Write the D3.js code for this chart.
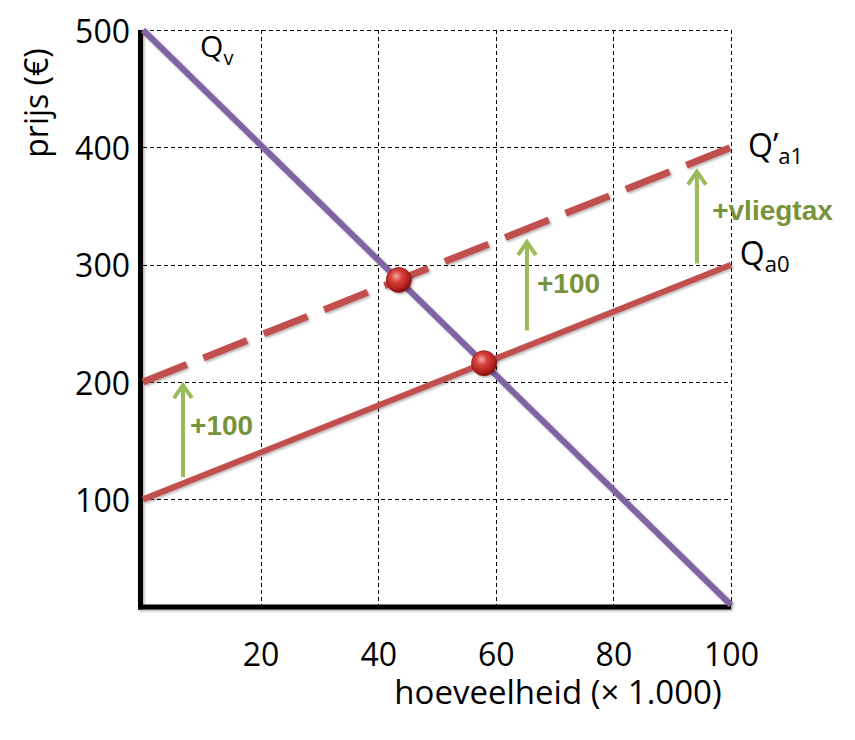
<!DOCTYPE html>
<html>
<head>
<meta charset="utf-8">
<script src="https://cdn.jsdelivr.net/npm/d3@7"></script>
<style>
  html, body { margin: 0; padding: 0; background: #fff; }
  svg { display: block; }
</style>
</head>
<body>
<div id="chart"></div>
<script>
// ---- data ----
const xTicks = [20, 40, 60, 80, 100];
const yTicks = [100, 200, 300, 400, 500];
const lineQ = [0, 100];
const demandP = [500, 10];      // Qv
const supply0P = [100, 300];    // Qa0
const supply1P = [200, 400];    // Q'a1 (with vliegtax)
const equilibriumQ = [43.5, 58];
const equilibriumP = [287, 216];
const arrowQ = [6.8, 65.3, 94.2];
const arrowFromP = [119, 244, 301];
const arrowToP = [199, 321, 381];
const arrowLabels = ["+100", "+100", "+vliegtax"];
const arrowLabelQ = [8.0, 67.0, 96.8];
const arrowLabelP = [155, 276, 338];
const xTitle = "hoeveelheid (× 1.000)";
const yTitle = "prijs (€)";

// ---- layout ----
const W = 855, H = 740;
const svg = d3.select("#chart").append("svg").attr("width", W).attr("height", H);
const x = d3.scaleLinear().domain([0, 100]).range([143, 731]);
const y = d3.scaleLinear().domain([10, 500]).range([605, 30]);
const font = "'Open Sans', 'Noto Sans', sans-serif";

const defs = svg.append("defs");
const shadow = defs.append("filter").attr("id", "sh").attr("x", "-20%").attr("y", "-20%").attr("width", "140%").attr("height", "140%");
shadow.append("feDropShadow").attr("dx", 1.5).attr("dy", 1.5).attr("stdDeviation", 1.2).attr("flood-color", "#000").attr("flood-opacity", 0.3);
const grad = defs.append("radialGradient").attr("id", "ball").attr("cx", "40%").attr("cy", "35%").attr("r", "65%");
grad.append("stop").attr("offset", "0%").attr("stop-color", "#f6a9a4");
grad.append("stop").attr("offset", "35%").attr("stop-color", "#d9413b");
grad.append("stop").attr("offset", "80%").attr("stop-color", "#b0201c");
grad.append("stop").attr("offset", "100%").attr("stop-color", "#7a1010");

// grid
const grid = svg.append("g").attr("stroke", "#000").attr("stroke-width", 1).attr("stroke-dasharray", "4,3");
grid.selectAll("line.h").data(yTicks).join("line").attr("class", "h")
  .attr("x1", x(0)).attr("x2", x(100)).attr("y1", d => Math.round(y(d)) + 0.5).attr("y2", d => Math.round(y(d)) + 0.5);
grid.selectAll("line.v").data(xTicks).join("line").attr("class", "v")
  .attr("x1", d => Math.round(x(d)) + 0.5).attr("x2", d => Math.round(x(d)) + 0.5).attr("y1", y(500)).attr("y2", y(10));

// axes (thick black)
const axisG = svg.append("g").attr("filter", "url(#sh)");
axisG.append("line").attr("x1", x(0) - 2.5).attr("x2", x(0) - 2.5).attr("y1", y(500)).attr("y2", y(10) + 4.5)
  .attr("stroke", "#000").attr("stroke-width", 5);
axisG.append("line").attr("x1", x(0) - 5).attr("x2", x(100)).attr("y1", y(10) + 2).attr("y2", y(10) + 2)
  .attr("stroke", "#000").attr("stroke-width", 5);

// tick labels via d3 axes
const xAxis = d3.axisBottom(x).tickValues(xTicks).tickSize(0).tickPadding(0);
const gx = svg.append("g").attr("transform", `translate(0,${y(10) + 61})`).call(xAxis);
gx.select(".domain").remove();
gx.selectAll("text").attr("font-family", font).attr("font-size", 32).attr("fill", "#000").attr("dy", 0);

const yAxis = d3.axisLeft(y).tickValues(yTicks).tickSize(0).tickPadding(0);
const gy = svg.append("g").attr("transform", `translate(${x(0) - 13},0)`).call(yAxis);
gy.select(".domain").remove();
gy.selectAll("text").attr("font-family", font).attr("font-size", 32).attr("fill", "#000").attr("dy", "0.38em");

// axis titles
svg.append("text").attr("x", 558).attr("y", 704).attr("text-anchor", "middle")
  .attr("font-family", font).attr("font-size", 33).attr("fill", "#000").text(xTitle);
svg.append("text").attr("transform", "translate(48,103) rotate(-90)").attr("text-anchor", "middle")
  .attr("font-family", font).attr("font-size", 32).attr("fill", "#000").text(yTitle);

// curves
const lines = svg.append("g").attr("filter", "url(#sh)");
const mk = (P) => lineQ.map((q, i) => [x(q), y(P[i])]);
const lineGen = d3.line();
lines.append("path").attr("d", lineGen(mk(supply1P))).attr("stroke", "#C0504D").attr("stroke-width", 7)
  .attr("fill", "none").attr("stroke-dasharray", "47,18");
lines.append("path").attr("d", lineGen(mk(supply0P))).attr("stroke", "#C0504D").attr("stroke-width", 6).attr("fill", "none");
lines.append("path").attr("d", lineGen(mk(demandP))).attr("stroke", "#8064A2").attr("stroke-width", 6).attr("fill", "none");

// equilibrium balls
svg.append("g").attr("filter", "url(#sh)").selectAll("circle").data(equilibriumQ).join("circle")
  .attr("cx", d => x(d)).attr("cy", (d, i) => y(equilibriumP[i])).attr("r", 12.5)
  .attr("fill", "url(#ball)").attr("stroke", "#8a1a18").attr("stroke-width", 0.8);

// arrows
const ag = svg.append("g").attr("stroke", "#9BBB59").attr("stroke-width", 4).attr("fill", "none").attr("stroke-linecap", "butt");
arrowQ.forEach((q, i) => {
  const ax = x(q), y0 = y(arrowFromP[i]), y1 = y(arrowToP[i]);
  ag.append("line").attr("x1", ax).attr("x2", ax).attr("y1", y0).attr("y2", y1 + 2);
  ag.append("path").attr("d", `M${ax - 9},${y1 + 15} L${ax},${y1 + 2} L${ax + 9},${y1 + 15}`).attr("stroke-linejoin", "miter");
});
svg.append("g").selectAll("text").data(arrowLabels).join("text")
  .attr("x", (d, i) => x(arrowLabelQ[i])).attr("y", (d, i) => y(arrowLabelP[i]))
  .attr("font-family", "'Liberation Sans', Arial, sans-serif").attr("font-weight", "bold").attr("font-size", 28)
  .attr("fill", "#77933C").text(d => d);

// curve labels
const lab = svg.append("g").attr("font-family", font).attr("fill", "#000");
const t1 = lab.append("text").attr("x", x(9.7)).attr("y", y(477)).attr("font-size", 30);
t1.append("tspan").text("Q");
t1.append("tspan").attr("font-size", 20).attr("dy", 8).text("v");
const t2 = lab.append("text").attr("x", x(102.9)).attr("y", y(392)).attr("font-size", 32);
t2.append("tspan").text("Q’");
t2.append("tspan").attr("font-size", 22).attr("dy", 7).text("a1");
const t3 = lab.append("text").attr("x", x(101.5)).attr("y", y(300)).attr("font-size", 32);
t3.append("tspan").text("Q");
t3.append("tspan").attr("font-size", 22).attr("dy", 7).text("a0");
</script>
</body>
</html>
